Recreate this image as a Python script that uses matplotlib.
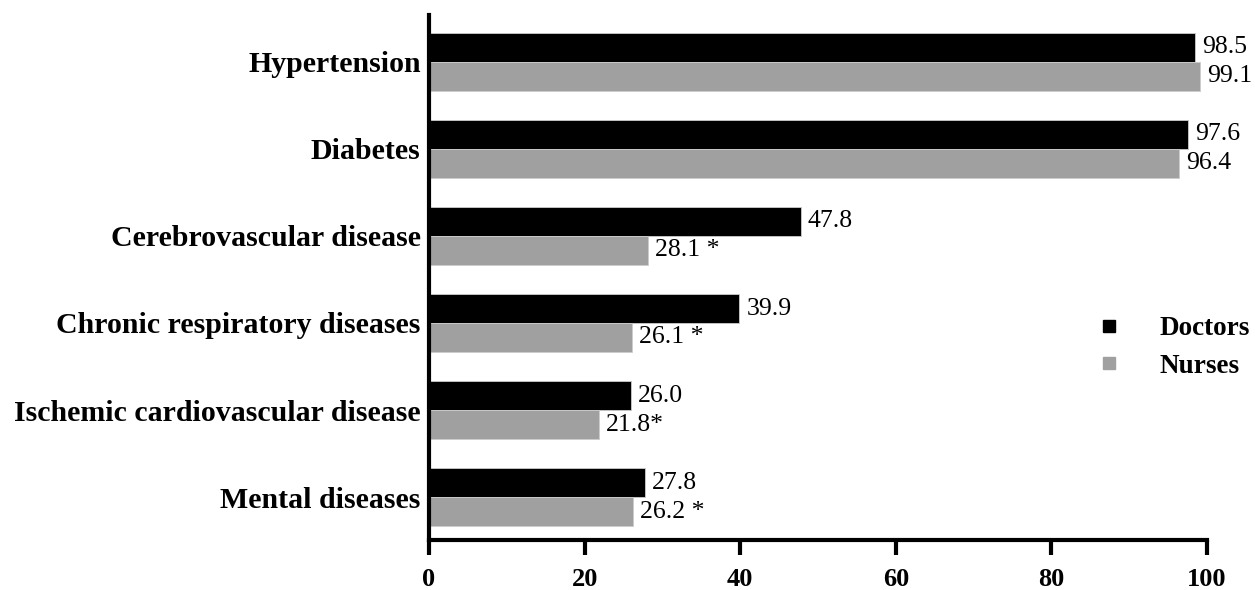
import matplotlib.pyplot as plt
import numpy as np
from matplotlib.lines import Line2D

categories = ['Hypertension', 'Diabetes', 'Cerebrovascular disease',
              'Chronic respiratory diseases', 'Ischemic cardiovascular disease',
              'Mental diseases']
doctors = [98.5, 97.6, 47.8, 39.9, 26.0, 27.8]
nurses = [99.1, 96.4, 28.1, 26.1, 21.8, 26.2]
nurse_marks = ['', '', ' *', ' *', '*', ' *']
xticks = [0, 20, 40, 60, 80, 100]

plt.rcParams['font.family'] = ['Liberation Serif', 'DejaVu Serif']

fig = plt.figure(figsize=(12.55, 5.9), dpi=100)
ax = fig.add_axes([0.3418, 0.0847, 0.62, 0.89])

y = np.arange(len(categories))[::-1]
h = 0.333
ax.barh(y + h / 2, doctors, height=h, color='black', edgecolor='#cccccc', linewidth=0.6)
ax.barh(y - h / 2, nurses, height=h, color='#a0a0a0', edgecolor='#cccccc', linewidth=0.6)

for yi, d, n, m in zip(y, doctors, nurses, nurse_marks):
    ax.annotate(f'{d:.1f}', (d, yi + h / 2), xytext=(5, 0), textcoords='offset points',
                va='center', ha='left', fontsize=18.5)
    ax.annotate(f'{n:.1f}{m}', (n, yi - h / 2), xytext=(5, 0), textcoords='offset points',
                va='center', ha='left', fontsize=18.5)

ax.set_xlim(0, 100)
ax.set_ylim(-0.494, 5.54)
ax.set_yticks(y)
ax.set_yticklabels(categories, fontsize=21.5, fontweight='bold')
ax.tick_params(axis='y', length=0, pad=6)
ax.set_xticks(xticks)
ax.set_xticklabels([str(t) for t in xticks], fontsize=19, fontweight='bold')
ax.tick_params(axis='x', length=11, width=3, pad=9)

for s in ['top', 'right']:
    ax.spines[s].set_visible(False)
for s in ['left', 'bottom']:
    ax.spines[s].set_linewidth(3)

handles = [Line2D([], [], marker='s', color='black', linestyle='none', markersize=9),
           Line2D([], [], marker='s', color='#a0a0a0', linestyle='none', markersize=9)]
fig.legend(handles, ['Doctors', 'Nurses'], loc='center', bbox_to_anchor=(0.929, 0.411),
           frameon=False, prop={'weight': 'bold', 'size': 19.5}, handletextpad=0.85,
           labelspacing=0.45)

fig.savefig('out.png', dpi=100)
